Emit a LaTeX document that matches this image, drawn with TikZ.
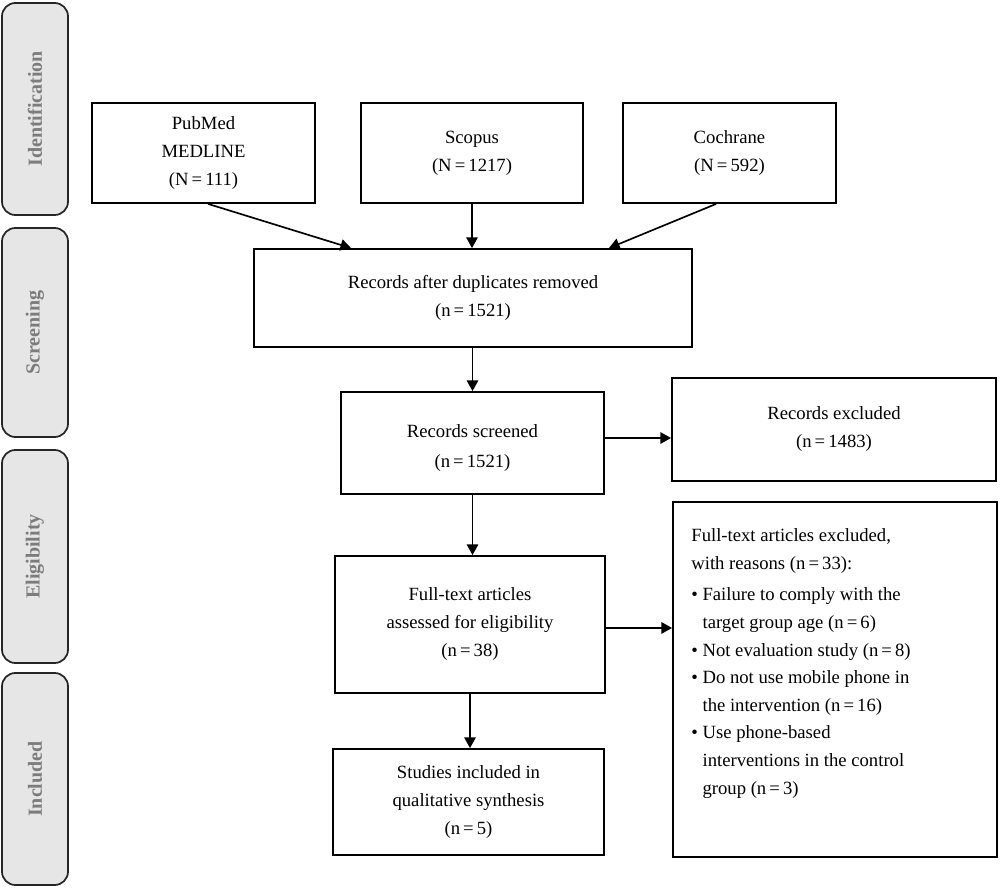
\documentclass[tikz,border=0pt]{standalone}
\usepackage{fontspec}
\setmainfont{Liberation Serif}
\usetikzlibrary{arrows.meta,calc}
\definecolor{phasefill}{HTML}{E6E6E6}
\definecolor{phasetext}{HTML}{7C7C7C}
\tikzset{
  box/.style={draw=black, line width=1.35pt, fill=white, align=center, inner sep=2pt,
    font=\fontsize{14}{21}\selectfont},
  phase/.style={draw=black!85, line width=1.3pt, fill=phasefill, rounded corners=10pt,
    rotate=90, minimum height=49.5pt, font=\fontsize{15}{17}\selectfont\bfseries,
    text=phasetext},
  arr/.style={line width=1.25pt, -{Triangle[length=8pt,width=8.5pt]}},
}
\begin{document}
\begin{tikzpicture}[x=0.75pt,y=-0.75pt]
\useasboundingbox (0,0) rectangle (1000,888);
% phase labels
\node[phase, minimum width=159pt] (pid) at (35,109) {Identification};
\node[phase, minimum width=156.75pt] (psc) at (35,332.5) {Screening};
\node[phase, minimum width=159.75pt] (pel) at (35,556.5) {Eligibility};
\node[phase, minimum width=159pt] (pin) at (35,779) {Included};
% boxes
\node[box, minimum width=167.25pt, minimum height=75pt] (pub) at (203.5,153) {PubMed\\MEDLINE\\(N\,=\,111)};
\node[box, minimum width=166.5pt, minimum height=75pt] (sco) at (472,153) {Scopus\\(N\,=\,1217)};
\node[box, minimum width=159.75pt, minimum height=75pt] (coc) at (729.5,153) {Cochrane\\(N\,=\,592)};
\node[box, minimum width=328.5pt, minimum height=73.5pt] (dup) at (473,298) {Records after duplicates removed\\(n\,=\,1521)};
\node[box, minimum width=197.25pt, minimum height=76.5pt] (scr) at (472.5,443) {};
\node[align=center, inner sep=0pt, font=\fontsize{14}{22}\selectfont] (scrt) at (472.5,448) {Records screened\\(n\,=\,1521)};
\node[box, minimum width=243pt, minimum height=77.25pt] (exc) at (834,429.5) {Records excluded\\(n\,=\,1483)};
\node[box, minimum width=202.5pt, minimum height=102.75pt] (ft) at (470,624.5) {Full-text articles\\assessed for eligibility\\(n\,=\,38)};
\node[box, minimum width=243pt, minimum height=266.25pt] (ftx) at (835,679.5) {};
\node[box, minimum width=203.25pt, minimum height=79.5pt] (inc) at (468.5,802) {Studies included in\\qualitative synthesis\\(n\,=\,5)};
% text of exclusion box
\node[anchor=north west, align=left, inner sep=0pt, font=\fontsize{14}{20.7}\selectfont]
  (ftxt) at ([xshift=14.25pt,yshift=-20.5pt]ftx.north west)
  {Full-text articles excluded,\\
   with reasons (n\,=\,33):\\[3pt]
   \textbullet\ Failure to comply with the\\
   \hphantom{\textbullet\ }target group age (n\,=\,6)\\
   \textbullet\ Not evaluation study (n\,=\,8)\\
   \textbullet\ Do not use mobile phone in\\
   \hphantom{\textbullet\ }the intervention (n\,=\,16)\\
   \textbullet\ Use phone-based\\
   \hphantom{\textbullet\ }interventions in the control\\
   \hphantom{\textbullet\ }group (n\,=\,3)};
% connectors
\draw[arr] ([xshift=3.4pt]pub.south) -- ([xshift=73.5pt]dup.north west);
\draw[arr] (sco.south) -- (sco.south |- dup.north);
\draw[arr] ([xshift=-10pt]coc.south) -- ([xshift=-63pt]dup.north east);
\draw[arr] (scr.north |- dup.south) -- (scr.north);
\draw[arr] ([yshift=3.75pt]scr.east) -- ([yshift=3.75pt]scr.east -| exc.west);
\draw[arr] (scr.south) -- (scr.south |- ft.north);
\draw[arr] ([yshift=-2.6pt]ft.east) -- ([yshift=-2.6pt]ft.east -| ftx.west);
\draw[arr] (ft.south) -- (ft.south |- inc.north);
\end{tikzpicture}
\end{document}
